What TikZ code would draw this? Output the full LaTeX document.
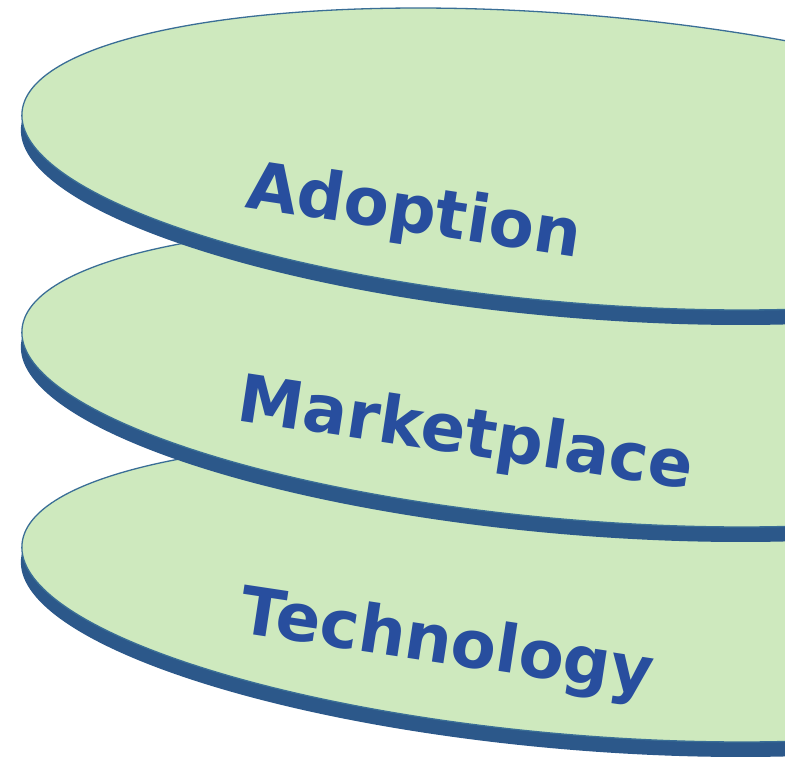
\documentclass[tikz,border=0pt]{standalone}
\usepackage{fontspec}
\newfontfamily\layerfont{DejaVu Sans}
\definecolor{discgreen}{RGB}{206,233,190}
\definecolor{discblue}{RGB}{44,88,138}
\definecolor{rimblue}{RGB}{58,110,150}
\definecolor{textblue}{RGB}{40,78,158}
\tikzset{
  disc side/.style={fill=discblue},
  disc face/.style={fill=discgreen, draw=rimblue, line width=1.3pt},
  layer label/.style={text=textblue, inner sep=0pt, anchor=base west,
    font=\layerfont\bfseries\fontsize{66}{70}\selectfont}
}

\begin{document}
\begin{tikzpicture}[x=1pt,y=1pt,yscale=-1,xscale=1]
\useasboundingbox (0,0) rectangle (785,759);
\clip (0,0) rectangle (785,759);

%Disc: Technology
\fill [disc side, rotate around={4.8:(579,606)}] (579,606) ellipse [x radius=560, y radius=144];
\draw [disc face, rotate around={4.8:(580,591)}] (580,591) ellipse [x radius=560, y radius=144];
%Disc: Marketplace
\fill [disc side, rotate around={4.8:(579,391)}] (579,391) ellipse [x radius=560, y radius=144];
\draw [disc face, rotate around={4.8:(580,376)}] (580,376) ellipse [x radius=560, y radius=144];
%Disc: Adoption
\fill [disc side, rotate around={4.8:(579,174)}] (579,174) ellipse [x radius=560, y radius=144];
\draw [disc face, rotate around={4.8:(580,159)}] (580,159) ellipse [x radius=560, y radius=144];

% Text Node
\node [layer label, rotate=-8.6] (adoption) at (244,207) {Adoption};
% Text Node
\node [layer label, rotate=-8.6] (marketplace) at (235,420) {Marketplace};
% Text Node
\node [layer label, rotate=-8.6] (technology) at (237,632) {Technology};

\end{tikzpicture}
\end{document}
